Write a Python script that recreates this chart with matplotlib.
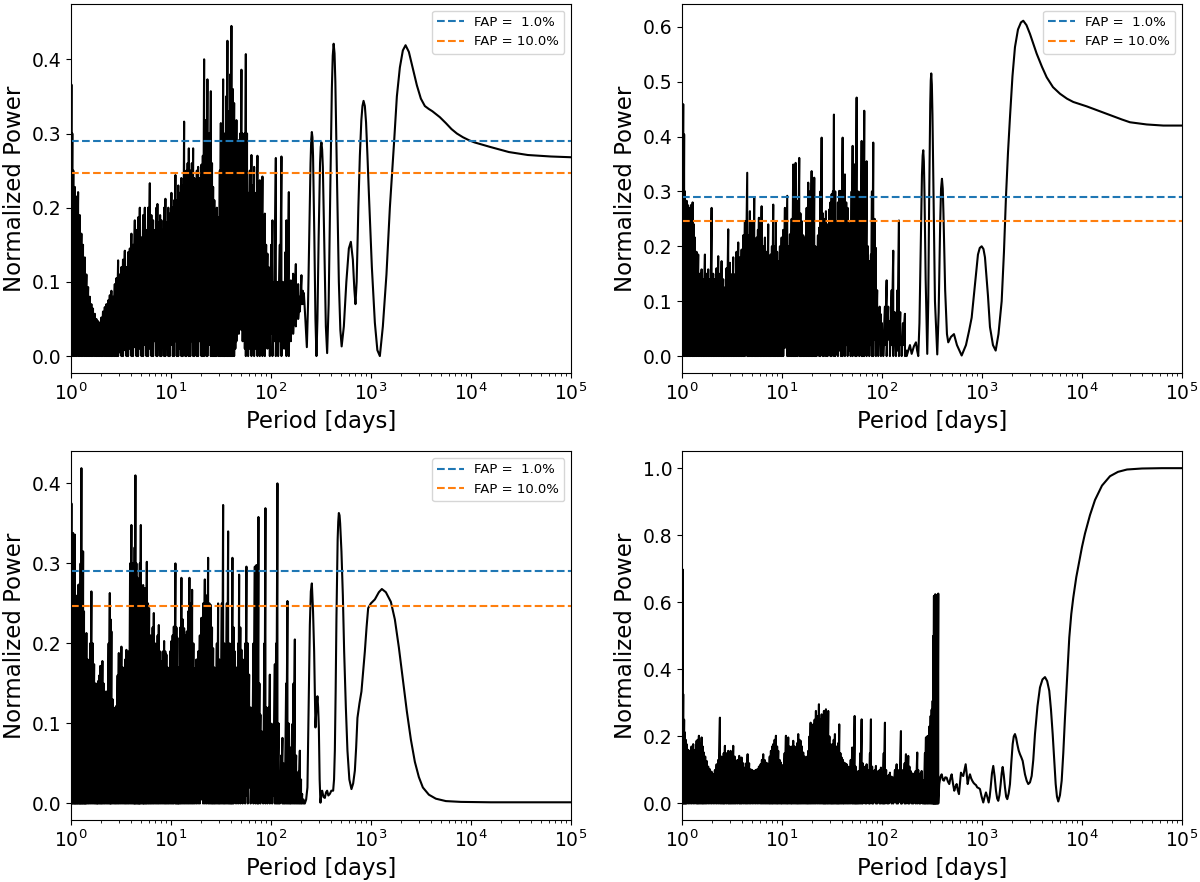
import numpy as np
import matplotlib
matplotlib.use('Agg')
import matplotlib.pyplot as plt

# FAP levels (same for the three panels that show them)
fap_labels = ['FAP =  1.0%', 'FAP = 10.0%']
fap_power = [0.290, 0.247]
fap_colors = ['C0', 'C1']

# Dense part of each periodogram: (log10 period, peak power, trough power)
p1_forest = [
    (0.000, 0.452, 0.0), (0.006, 0.366, 0.0), (0.015, 0.30, 0.0), (0.025, 0.25, 0.0),
    (0.040, 0.228, 0.0), (0.055, 0.215, 0.0), (0.073, 0.221, 0.0), (0.090, 0.19, 0.0),
    (0.106, 0.165, 0.0), (0.122, 0.15, 0.0), (0.140, 0.133, 0.0), (0.156, 0.11, 0.0),
    (0.173, 0.093, 0.0), (0.190, 0.08, 0.0), (0.206, 0.070, 0.0), (0.222, 0.064, 0.0),
    (0.240, 0.057, 0.0), (0.256, 0.05, 0.0), (0.273, 0.047, 0.0), (0.290, 0.045, 0.0),
    (0.306, 0.052, 0.0), (0.322, 0.06, 0.0), (0.340, 0.066, 0.0), (0.356, 0.07, 0.0),
    (0.373, 0.075, 0.0), (0.390, 0.082, 0.0), (0.406, 0.088, 0.0), (0.422, 0.08, 0.0),
    (0.440, 0.097, 0.0), (0.456, 0.105, 0.0), (0.473, 0.129, 0.0), (0.490, 0.11, 0.005),
    (0.506, 0.12, 0.0), (0.522, 0.13, 0.0), (0.540, 0.142, 0.008), (0.556, 0.12, 0.0),
    (0.573, 0.14, 0.0), (0.590, 0.145, 0.01), (0.606, 0.165, 0.0), (0.622, 0.15, 0.0),
    (0.640, 0.183, 0.012), (0.656, 0.17, 0.0), (0.673, 0.187, 0.0), (0.690, 0.2, 0.01),
    (0.706, 0.16, 0.0), (0.723, 0.19, 0.0), (0.740, 0.2, 0.015), (0.756, 0.17, 0.0),
    (0.773, 0.2, 0.0), (0.790, 0.233, 0.01), (0.806, 0.19, 0.0), (0.823, 0.183, 0.0),
    (0.840, 0.17, 0.02), (0.856, 0.2, 0.0), (0.866, 0.205, 0.0), (0.880, 0.18, 0.01),
    (0.893, 0.19, 0.0), (0.906, 0.183, 0.0), (0.920, 0.17, 0.02), (0.933, 0.2, 0.0),
    (0.946, 0.212, 0.0), (0.960, 0.18, 0.01), (0.975, 0.2, 0.0), (0.990, 0.192, 0.0),
    (1.006, 0.22, 0.015), (1.020, 0.2, 0.0), (1.033, 0.21, 0.0), (1.046, 0.244, 0.02),
    (1.060, 0.21, 0.0), (1.075, 0.23, 0.0), (1.090, 0.22, 0.01), (1.105, 0.24, 0.0),
    (1.120, 0.23, 0.0), (1.133, 0.316, 0.02), (1.145, 0.24, 0.0), (1.156, 0.25, 0.0),
    (1.168, 0.26, 0.015), (1.180, 0.28, 0.0), (1.195, 0.25, 0.0), (1.210, 0.26, 0.02),
    (1.223, 0.28, 0.0), (1.235, 0.24, 0.0), (1.246, 0.22, 0.01), (1.260, 0.25, 0.0),
    (1.273, 0.255, 0.0), (1.290, 0.24, 0.02), (1.306, 0.258, 0.0), (1.320, 0.27, 0.0),
    (1.333, 0.400, 0.0), (1.346, 0.318, 0.01), (1.356, 0.30, 0.0), (1.366, 0.373, 0.0),
    (1.383, 0.30, 0.015), (1.400, 0.357, 0.0), (1.412, 0.26, 0.0), (1.423, 0.228, 0.0),
    (1.435, 0.21, 0.0), (1.446, 0.183, 0.0), (1.460, 0.2, 0.0), (1.480, 0.187, 0.0),
    (1.490, 0.25, 0.0), (1.500, 0.314, 0.0), (1.512, 0.30, 0.0), (1.523, 0.373, 0.0),
    (1.533, 0.30, 0.0), (1.540, 0.273, 0.0), (1.553, 0.35, 0.0), (1.566, 0.425, 0.0),
    (1.576, 0.33, 0.0), (1.586, 0.282, 0.0), (1.596, 0.38, 0.0), (1.606, 0.445, 0.0),
    (1.620, 0.36, 0.0), (1.633, 0.341, 0.0), (1.645, 0.30, 0.01), (1.656, 0.318, 0.02),
    (1.668, 0.26, 0.04), (1.680, 0.291, 0.03), (1.693, 0.30, 0.04), (1.706, 0.386, 0.035),
    (1.718, 0.30, 0.02), (1.730, 0.22, 0.03), (1.740, 0.30, 0.01), (1.750, 0.407, 0.0),
    (1.762, 0.30, 0.02), (1.773, 0.22, 0.0), (1.790, 0.25, 0.01), (1.806, 0.271, 0.0),
    (1.820, 0.23, 0.02), (1.833, 0.255, 0.0), (1.850, 0.22, 0.01), (1.866, 0.27, 0.0),
    (1.878, 0.20, 0.02), (1.890, 0.237, 0.0), (1.903, 0.20, 0.03), (1.916, 0.242, 0.0),
    (1.928, 0.17, 0.02), (1.940, 0.192, 0.0), (1.953, 0.15, 0.03), (1.966, 0.138, 0.01),
    (1.978, 0.12, 0.04), (1.990, 0.102, 0.0), (2.003, 0.15, 0.03), (2.016, 0.183, 0.0),
    (2.033, 0.10, 0.02), (2.050, 0.267, 0.0), (2.062, 0.10, 0.03), (2.073, 0.057, 0.0),
    (2.090, 0.15, 0.02), (2.106, 0.269, 0.0), (2.120, 0.10, 0.04), (2.133, 0.093, 0.01),
    (2.145, 0.14, 0.03), (2.156, 0.183, 0.0), (2.168, 0.12, 0.05), (2.180, 0.221, 0.0),
    (2.190, 0.10, 0.04), (2.200, 0.102, 0.02), (2.212, 0.08, 0.05), (2.223, 0.111, 0.03),
    (2.237, 0.09, 0.06), (2.250, 0.124, 0.04), (2.262, 0.09, 0.06), (2.273, 0.097, 0.05),
    (2.290, 0.08, 0.06), (2.306, 0.109, 0.07), (2.320, 0.088, 0.07),
]

p2_forest = [
    (0.000, 0.574, 0.0), (0.013, 0.459, 0.0), (0.022, 0.404, 0.0), (0.030, 0.30, 0.0),
    (0.047, 0.283, 0.0), (0.060, 0.275, 0.0), (0.075, 0.27, 0.0), (0.090, 0.275, 0.0),
    (0.107, 0.28, 0.0), (0.120, 0.24, 0.0), (0.130, 0.216, 0.0), (0.146, 0.19, 0.0),
    (0.163, 0.185, 0.0), (0.180, 0.15, 0.0), (0.197, 0.158, 0.0), (0.213, 0.14, 0.0),
    (0.230, 0.185, 0.0), (0.246, 0.15, 0.0), (0.263, 0.158, 0.0), (0.280, 0.14, 0.0),
    (0.297, 0.27, 0.0), (0.313, 0.15, 0.0), (0.330, 0.14, 0.0), (0.346, 0.16, 0.0),
    (0.363, 0.182, 0.0), (0.380, 0.15, 0.0), (0.397, 0.173, 0.0), (0.413, 0.14, 0.0),
    (0.430, 0.125, 0.0), (0.446, 0.16, 0.0), (0.463, 0.231, 0.0), (0.480, 0.17, 0.0),
    (0.497, 0.149, 0.0), (0.513, 0.18, 0.0), (0.530, 0.149, 0.0), (0.546, 0.19, 0.0),
    (0.563, 0.207, 0.0), (0.580, 0.18, 0.0), (0.597, 0.194, 0.0), (0.613, 0.22, 0.0),
    (0.630, 0.246, 0.0), (0.653, 0.334, 0.0), (0.667, 0.22, 0.0), (0.680, 0.264, 0.0),
    (0.697, 0.246, 0.0), (0.710, 0.22, 0.0), (0.723, 0.289, 0.0), (0.735, 0.20, 0.0),
    (0.747, 0.216, 0.0), (0.760, 0.23, 0.0), (0.770, 0.252, 0.0), (0.784, 0.20, 0.0),
    (0.797, 0.273, 0.0), (0.813, 0.20, 0.0), (0.830, 0.216, 0.0), (0.847, 0.19, 0.0),
    (0.863, 0.24, 0.0), (0.875, 0.17, 0.0), (0.887, 0.185, 0.0), (0.900, 0.20, 0.0),
    (0.913, 0.276, 0.0), (0.927, 0.20, 0.0), (0.940, 0.246, 0.0), (0.952, 0.19, 0.0),
    (0.963, 0.173, 0.0), (0.980, 0.20, 0.0), (0.997, 0.216, 0.0), (1.013, 0.23, 0.0),
    (1.030, 0.27, 0.015), (1.053, 0.292, 0.0), (1.066, 0.20, 0.0), (1.080, 0.222, 0.0),
    (1.097, 0.25, 0.0), (1.113, 0.349, 0.0), (1.125, 0.30, 0.0), (1.137, 0.352, 0.0),
    (1.153, 0.283, 0.0), (1.173, 0.361, 0.0), (1.185, 0.26, 0.0), (1.197, 0.246, 0.0),
    (1.213, 0.22, 0.0), (1.230, 0.216, 0.0), (1.247, 0.27, 0.0), (1.263, 0.316, 0.0),
    (1.280, 0.30, 0.0), (1.297, 0.337, 0.0), (1.310, 0.29, 0.0), (1.323, 0.325, 0.0),
    (1.335, 0.20, 0.0), (1.347, 0.191, 0.0), (1.360, 0.22, 0.005), (1.373, 0.234, 0.0),
    (1.385, 0.30, 0.0), (1.397, 0.398, 0.005), (1.410, 0.26, 0.0), (1.420, 0.246, 0.0),
    (1.430, 0.25, 0.008), (1.440, 0.264, 0.0), (1.457, 0.24, 0.0), (1.473, 0.267, 0.005),
    (1.485, 0.28, 0.0), (1.497, 0.295, 0.0), (1.510, 0.30, 0.01), (1.520, 0.44, 0.0),
    (1.533, 0.30, 0.0), (1.547, 0.246, 0.005), (1.560, 0.28, 0.0), (1.573, 0.301, 0.01),
    (1.590, 0.301, 0.0), (1.607, 0.398, 0.0), (1.618, 0.30, 0.01), (1.630, 0.331, 0.0),
    (1.643, 0.28, 0.02), (1.657, 0.27, 0.0), (1.672, 0.24, 0.01), (1.687, 0.246, 0.0),
    (1.697, 0.30, 0.02), (1.707, 0.383, 0.0), (1.720, 0.30, 0.01), (1.733, 0.35, 0.0),
    (1.747, 0.471, 0.0), (1.760, 0.30, 0.02), (1.773, 0.246, 0.0), (1.785, 0.30, 0.01),
    (1.797, 0.392, 0.0), (1.810, 0.35, 0.0), (1.823, 0.447, 0.0), (1.835, 0.30, 0.02),
    (1.847, 0.355, 0.0), (1.860, 0.20, 0.03), (1.873, 0.173, 0.0), (1.890, 0.185, 0.02),
    (1.900, 0.30, 0.0), (1.913, 0.389, 0.0), (1.927, 0.25, 0.03), (1.940, 0.197, 0.0),
    (1.952, 0.12, 0.04), (1.963, 0.076, 0.0), (1.977, 0.09, 0.03), (1.990, 0.076, 0.0),
    (2.000, 0.06, 0.02), (2.013, 0.033, 0.0), (2.030, 0.09, 0.02), (2.047, 0.138, 0.0),
    (2.063, 0.09, 0.03), (2.080, 0.064, 0.0), (2.097, 0.12, 0.02), (2.113, 0.192, 0.0),
    (2.127, 0.08, 0.03), (2.140, 0.04, 0.0), (2.155, 0.12, 0.01), (2.170, 0.247, 0.0),
    (2.183, 0.08, 0.02), (2.197, 0.033, 0.0), (2.210, 0.06, 0.02), (2.230, 0.077, 0.0),
    (2.247, 0.01, 0.0),
]

p3_forest = [
    (0.000, 0.30, 0.0), (0.006, 0.375, 0.0), (0.015, 0.30, 0.0), (0.023, 0.338, 0.0),
    (0.032, 0.26, 0.0), (0.040, 0.336, 0.0), (0.048, 0.24, 0.0), (0.056, 0.253, 0.0),
    (0.065, 0.26, 0.0), (0.073, 0.273, 0.0), (0.082, 0.25, 0.0), (0.090, 0.275, 0.0),
    (0.098, 0.30, 0.0), (0.106, 0.419, 0.0), (0.115, 0.30, 0.0), (0.123, 0.315, 0.0),
    (0.132, 0.24, 0.0), (0.140, 0.20, 0.0), (0.148, 0.21, 0.0), (0.156, 0.213, 0.0),
    (0.168, 0.18, 0.0), (0.180, 0.169, 0.0), (0.193, 0.20, 0.0), (0.206, 0.265, 0.0),
    (0.220, 0.20, 0.0), (0.233, 0.174, 0.0), (0.245, 0.15, 0.0), (0.256, 0.134, 0.0),
    (0.265, 0.15, 0.0), (0.273, 0.153, 0.0), (0.285, 0.16, 0.0), (0.296, 0.172, 0.0),
    (0.306, 0.17, 0.0), (0.316, 0.178, 0.0), (0.328, 0.15, 0.0), (0.340, 0.134, 0.0),
    (0.353, 0.14, 0.0), (0.366, 0.138, 0.0), (0.378, 0.20, 0.0), (0.390, 0.263, 0.0),
    (0.398, 0.23, 0.0), (0.406, 0.215, 0.0), (0.420, 0.13, 0.0), (0.433, 0.111, 0.0),
    (0.445, 0.12, 0.0), (0.456, 0.122, 0.0), (0.468, 0.16, 0.0), (0.480, 0.188, 0.0),
    (0.493, 0.18, 0.0), (0.506, 0.196, 0.0), (0.520, 0.17, 0.0), (0.533, 0.153, 0.0),
    (0.545, 0.18, 0.0), (0.556, 0.192, 0.0), (0.568, 0.17, 0.0), (0.580, 0.19, 0.0),
    (0.593, 0.30, 0.0), (0.606, 0.348, 0.0), (0.618, 0.30, 0.0), (0.630, 0.277, 0.0),
    (0.638, 0.32, 0.0), (0.646, 0.41, 0.0), (0.656, 0.30, 0.0), (0.666, 0.282, 0.0),
    (0.675, 0.26, 0.0), (0.683, 0.257, 0.0), (0.690, 0.30, 0.0), (0.700, 0.348, 0.0),
    (0.712, 0.27, 0.0), (0.723, 0.273, 0.0), (0.730, 0.25, 0.0), (0.740, 0.269, 0.0),
    (0.750, 0.26, 0.0), (0.760, 0.302, 0.0), (0.772, 0.25, 0.0), (0.783, 0.244, 0.0),
    (0.795, 0.21, 0.0), (0.806, 0.199, 0.0), (0.818, 0.22, 0.0), (0.830, 0.238, 0.0),
    (0.843, 0.20, 0.0), (0.856, 0.194, 0.0), (0.868, 0.21, 0.0), (0.880, 0.223, 0.0),
    (0.893, 0.19, 0.0), (0.906, 0.178, 0.0), (0.920, 0.19, 0.0), (0.933, 0.203, 0.0),
    (0.945, 0.19, 0.0), (0.956, 0.186, 0.0), (0.968, 0.17, 0.0), (0.980, 0.165, 0.0),
    (0.993, 0.19, 0.0), (1.006, 0.203, 0.0), (1.018, 0.21, 0.0), (1.030, 0.221, 0.0),
    (1.046, 0.30, 0.0), (1.056, 0.22, 0.0), (1.066, 0.207, 0.0), (1.075, 0.17, 0.0),
    (1.083, 0.149, 0.0), (1.095, 0.22, 0.0), (1.106, 0.282, 0.0), (1.120, 0.23, 0.0),
    (1.133, 0.219, 0.0), (1.146, 0.21, 0.0), (1.160, 0.215, 0.0), (1.173, 0.24, 0.0),
    (1.186, 0.282, 0.0), (1.200, 0.25, 0.0), (1.213, 0.267, 0.0), (1.226, 0.20, 0.0),
    (1.240, 0.169, 0.0), (1.256, 0.18, 0.0), (1.273, 0.19, 0.0), (1.290, 0.21, 0.0),
    (1.306, 0.232, 0.005), (1.323, 0.25, 0.0), (1.340, 0.28, 0.0), (1.356, 0.26, 0.0),
    (1.373, 0.307, 0.0), (1.386, 0.25, 0.0), (1.400, 0.248, 0.0), (1.412, 0.22, 0.0),
    (1.423, 0.194, 0.0), (1.435, 0.17, 0.0), (1.446, 0.149, 0.0), (1.460, 0.20, 0.0),
    (1.473, 0.25, 0.0), (1.485, 0.18, 0.0), (1.496, 0.157, 0.0), (1.510, 0.25, 0.0),
    (1.523, 0.373, 0.0), (1.535, 0.20, 0.0), (1.546, 0.149, 0.0), (1.560, 0.25, 0.0),
    (1.573, 0.34, 0.0), (1.585, 0.20, 0.0), (1.596, 0.12, 0.0), (1.606, 0.20, 0.0),
    (1.616, 0.307, 0.0), (1.628, 0.22, 0.0), (1.640, 0.19, 0.01), (1.652, 0.17, 0.0),
    (1.663, 0.157, 0.02), (1.673, 0.20, 0.0), (1.683, 0.286, 0.01), (1.695, 0.22, 0.0),
    (1.706, 0.192, 0.02), (1.718, 0.18, 0.0), (1.730, 0.165, 0.03), (1.743, 0.20, 0.0),
    (1.756, 0.296, 0.01), (1.770, 0.20, 0.0), (1.783, 0.161, 0.02), (1.798, 0.12, 0.0),
    (1.813, 0.09, 0.03), (1.826, 0.20, 0.0), (1.840, 0.296, 0.01), (1.848, 0.25, 0.0),
    (1.856, 0.298, 0.02), (1.866, 0.25, 0.0), (1.876, 0.358, 0.0), (1.886, 0.15, 0.02),
    (1.896, 0.111, 0.0), (1.910, 0.09, 0.03), (1.923, 0.07, 0.0), (1.935, 0.20, 0.01),
    (1.946, 0.369, 0.0), (1.956, 0.12, 0.02), (1.966, 0.074, 0.0), (1.978, 0.12, 0.01),
    (1.990, 0.161, 0.0), (2.000, 0.10, 0.02), (2.013, 0.041, 0.0), (2.027, 0.10, 0.01),
    (2.040, 0.174, 0.0), (2.053, 0.20, 0.0), (2.066, 0.40, 0.0), (2.078, 0.10, 0.0),
    (2.090, 0.032, 0.0), (2.103, 0.06, 0.01), (2.116, 0.082, 0.0), (2.128, 0.05, 0.0),
    (2.140, 0.024, 0.0), (2.153, 0.15, 0.0), (2.166, 0.253, 0.0), (2.178, 0.10, 0.0),
    (2.190, 0.037, 0.0), (2.200, 0.07, 0.0), (2.213, 0.099, 0.0), (2.227, 0.15, 0.0),
    (2.240, 0.205, 0.0), (2.253, 0.06, 0.0), (2.266, 0.007, 0.0), (2.278, 0.04, 0.0),
    (2.290, 0.066, 0.0), (2.302, 0.03, 0.0), (2.313, 0.012, 0.0), (2.327, 0.005, 0.0),
    (2.340, 0.0, 0.0),
]

p4_forest = [
    (0.000, 0.45, 0.0), (0.007, 0.698, 0.0), (0.013, 0.326, 0.0), (0.022, 0.25, 0.0),
    (0.030, 0.212, 0.0), (0.038, 0.19, 0.0), (0.047, 0.177, 0.0), (0.063, 0.16, 0.0),
    (0.080, 0.157, 0.0), (0.096, 0.17, 0.0), (0.113, 0.177, 0.0), (0.130, 0.16, 0.0),
    (0.147, 0.187, 0.0), (0.158, 0.19, 0.0), (0.170, 0.202, 0.0), (0.183, 0.18, 0.0),
    (0.197, 0.197, 0.0), (0.208, 0.17, 0.0), (0.220, 0.152, 0.0), (0.233, 0.14, 0.0),
    (0.247, 0.127, 0.0), (0.263, 0.11, 0.0), (0.280, 0.102, 0.0), (0.296, 0.095, 0.0),
    (0.313, 0.087, 0.0), (0.330, 0.10, 0.0), (0.347, 0.117, 0.0), (0.363, 0.13, 0.0),
    (0.380, 0.256, 0.0), (0.393, 0.14, 0.0), (0.407, 0.127, 0.0), (0.418, 0.15, 0.0),
    (0.430, 0.172, 0.0), (0.447, 0.15, 0.0), (0.463, 0.157, 0.0), (0.475, 0.14, 0.0),
    (0.487, 0.157, 0.0), (0.500, 0.15, 0.0), (0.513, 0.172, 0.0), (0.527, 0.14, 0.0),
    (0.540, 0.117, 0.0), (0.556, 0.13, 0.0), (0.573, 0.142, 0.0), (0.585, 0.12, 0.0),
    (0.597, 0.137, 0.0), (0.613, 0.12, 0.0), (0.630, 0.107, 0.0), (0.643, 0.12, 0.0),
    (0.657, 0.147, 0.0), (0.672, 0.12, 0.0), (0.687, 0.102, 0.0), (0.703, 0.10, 0.0),
    (0.720, 0.097, 0.0), (0.737, 0.10, 0.0), (0.753, 0.102, 0.0), (0.770, 0.11, 0.0),
    (0.787, 0.117, 0.0), (0.800, 0.13, 0.0), (0.813, 0.147, 0.0), (0.827, 0.13, 0.0),
    (0.840, 0.122, 0.0), (0.853, 0.12, 0.0), (0.867, 0.117, 0.0), (0.878, 0.14, 0.0),
    (0.890, 0.157, 0.0), (0.902, 0.17, 0.0), (0.913, 0.177, 0.0), (0.927, 0.19, 0.0),
    (0.940, 0.202, 0.0), (0.952, 0.17, 0.0), (0.963, 0.157, 0.0), (0.977, 0.13, 0.0),
    (0.990, 0.122, 0.0), (1.000, 0.115, 0.0), (1.013, 0.112, 0.0), (1.027, 0.15, 0.0),
    (1.040, 0.202, 0.0), (1.052, 0.18, 0.0), (1.063, 0.197, 0.0), (1.077, 0.17, 0.0),
    (1.090, 0.157, 0.0), (1.100, 0.17, 0.0), (1.113, 0.187, 0.0), (1.127, 0.17, 0.0),
    (1.140, 0.157, 0.0), (1.152, 0.18, 0.0), (1.163, 0.207, 0.0), (1.175, 0.19, 0.0),
    (1.187, 0.187, 0.0), (1.200, 0.17, 0.0), (1.213, 0.152, 0.0), (1.227, 0.14, 0.0),
    (1.240, 0.127, 0.0), (1.252, 0.14, 0.0), (1.263, 0.157, 0.0), (1.275, 0.20, 0.0),
    (1.287, 0.241, 0.0), (1.300, 0.22, 0.0), (1.313, 0.236, 0.0), (1.327, 0.25, 0.0),
    (1.340, 0.276, 0.0), (1.355, 0.26, 0.0), (1.370, 0.296, 0.0), (1.383, 0.25, 0.0),
    (1.397, 0.266, 0.0), (1.410, 0.24, 0.0), (1.420, 0.276, 0.0), (1.430, 0.25, 0.0),
    (1.440, 0.281, 0.0), (1.452, 0.24, 0.0), (1.463, 0.276, 0.0), (1.475, 0.20, 0.0),
    (1.487, 0.177, 0.0), (1.497, 0.16, 0.0), (1.507, 0.177, 0.0), (1.518, 0.19, 0.0),
    (1.530, 0.207, 0.0), (1.542, 0.17, 0.0), (1.553, 0.157, 0.0), (1.563, 0.18, 0.0),
    (1.573, 0.236, 0.0), (1.585, 0.15, 0.0), (1.597, 0.137, 0.0), (1.610, 0.13, 0.0),
    (1.620, 0.122, 0.0), (1.633, 0.12, 0.0), (1.647, 0.117, 0.0), (1.660, 0.11, 0.0),
    (1.673, 0.107, 0.0), (1.688, 0.13, 0.0), (1.703, 0.167, 0.0), (1.715, 0.15, 0.0),
    (1.727, 0.261, 0.0), (1.737, 0.11, 0.0), (1.747, 0.097, 0.0), (1.758, 0.09, 0.0),
    (1.770, 0.097, 0.0), (1.783, 0.15, 0.0), (1.797, 0.251, 0.0), (1.808, 0.12, 0.0),
    (1.820, 0.097, 0.005), (1.833, 0.11, 0.0), (1.847, 0.117, 0.0), (1.858, 0.10, 0.005),
    (1.870, 0.097, 0.0), (1.880, 0.15, 0.0), (1.890, 0.251, 0.005), (1.902, 0.11, 0.0),
    (1.913, 0.097, 0.0), (1.927, 0.10, 0.005), (1.940, 0.112, 0.0), (1.952, 0.09, 0.0),
    (1.963, 0.097, 0.005), (1.977, 0.10, 0.0), (1.990, 0.107, 0.0), (2.000, 0.09, 0.005),
    (2.007, 0.077, 0.0), (2.018, 0.15, 0.0), (2.030, 0.241, 0.0), (2.042, 0.10, 0.005),
    (2.053, 0.082, 0.0), (2.067, 0.085, 0.0), (2.080, 0.092, 0.005), (2.097, 0.08, 0.0),
    (2.113, 0.077, 0.0), (2.130, 0.10, 0.005), (2.147, 0.117, 0.0), (2.160, 0.10, 0.0),
    (2.173, 0.097, 0.005), (2.190, 0.216, 0.0), (2.200, 0.10, 0.0), (2.213, 0.097, 0.005),
    (2.227, 0.12, 0.0), (2.240, 0.147, 0.0), (2.252, 0.13, 0.005), (2.263, 0.142, 0.0),
    (2.275, 0.11, 0.0), (2.287, 0.097, 0.01), (2.300, 0.09, 0.0), (2.313, 0.082, 0.0),
    (2.325, 0.09, 0.01), (2.337, 0.097, 0.0), (2.353, 0.152, 0.0), (2.363, 0.10, 0.01),
    (2.373, 0.082, 0.0), (2.385, 0.09, 0.0), (2.397, 0.097, 0.01), (2.408, 0.07, 0.0),
    (2.420, 0.058, 0.0), (2.430, 0.15, 0.0), (2.440, 0.197, 0.0), (2.452, 0.20, 0.0),
    (2.463, 0.202, 0.0), (2.475, 0.23, 0.0), (2.487, 0.261, 0.0), (2.497, 0.28, 0.0),
    (2.507, 0.306, 0.0), (2.514, 0.50, 0.0), (2.520, 0.619, 0.0), (2.527, 0.62, 0.0),
    (2.533, 0.624, 0.0), (2.540, 0.60, 0.0), (2.547, 0.622, 0.0), (2.555, 0.61, 0.0),
    (2.563, 0.626, 0.0),
]

# Long-period part of each periodogram: (log10 period, power)
p1_smooth = [
    (2.330, 0.085), (2.345, 0.05), (2.360, 0.012), (2.372, 0.07), (2.385, 0.17),
    (2.397, 0.26), (2.404, 0.292), (2.410, 0.302), (2.416, 0.295), (2.422, 0.27),
    (2.435, 0.16), (2.446, 0.05), (2.456, 0.0), (2.466, 0.05), (2.478, 0.16),
    (2.492, 0.26), (2.499, 0.282), (2.506, 0.288), (2.513, 0.278), (2.520, 0.255),
    (2.535, 0.15), (2.550, 0.04), (2.563, 0.004), (2.578, 0.07), (2.595, 0.23),
    (2.610, 0.36), (2.619, 0.405), (2.628, 0.421), (2.637, 0.408), (2.645, 0.37),
    (2.660, 0.25), (2.680, 0.10), (2.695, 0.035), (2.708, 0.013), (2.730, 0.04),
    (2.755, 0.10), (2.780, 0.145), (2.800, 0.154), (2.820, 0.13), (2.835, 0.09),
    (2.846, 0.07), (2.858, 0.10), (2.875, 0.20), (2.890, 0.27), (2.905, 0.318),
    (2.916, 0.337), (2.927, 0.344), (2.940, 0.337), (2.952, 0.315), (2.966, 0.27),
    (2.980, 0.22), (3.010, 0.12), (3.040, 0.045), (3.065, 0.008), (3.090, 0.0),
    (3.120, 0.04), (3.156, 0.11), (3.190, 0.20), (3.233, 0.29), (3.260, 0.35),
    (3.290, 0.389), (3.320, 0.412), (3.347, 0.419), (3.380, 0.41), (3.424, 0.385),
    (3.460, 0.365), (3.500, 0.347), (3.540, 0.337), (3.580, 0.333), (3.615, 0.33),
    (3.690, 0.322), (3.750, 0.314), (3.806, 0.306), (3.860, 0.30), (3.920, 0.295),
    (3.980, 0.291), (4.036, 0.288), (4.190, 0.282), (4.380, 0.275), (4.570, 0.271),
    (4.800, 0.269), (5.000, 0.268),
]

p2_smooth = [
    (2.263, 0.01), (2.280, 0.02), (2.297, 0.004), (2.320, 0.018), (2.340, 0.025),
    (2.352, 0.01), (2.363, 0.0), (2.375, 0.06), (2.388, 0.20), (2.400, 0.33),
    (2.407, 0.365), (2.413, 0.375), (2.419, 0.355), (2.425, 0.30), (2.437, 0.14),
    (2.453, 0.004), (2.463, 0.10), (2.473, 0.30), (2.483, 0.46), (2.488, 0.502),
    (2.493, 0.515), (2.499, 0.495), (2.505, 0.44), (2.517, 0.27), (2.530, 0.10),
    (2.553, 0.003), (2.567, 0.08), (2.582, 0.24), (2.591, 0.305), (2.600, 0.323),
    (2.608, 0.305), (2.615, 0.26), (2.632, 0.12), (2.650, 0.04), (2.663, 0.025),
    (2.690, 0.035), (2.720, 0.04), (2.750, 0.02), (2.797, 0.001), (2.840, 0.02),
    (2.870, 0.045), (2.897, 0.07), (2.930, 0.13), (2.960, 0.185), (2.978, 0.197),
    (2.997, 0.20), (3.015, 0.195), (3.030, 0.18), (3.060, 0.11), (3.080, 0.053),
    (3.110, 0.02), (3.137, 0.01), (3.165, 0.04), (3.197, 0.10), (3.220, 0.19),
    (3.240, 0.29), (3.260, 0.37), (3.280, 0.435), (3.305, 0.51), (3.330, 0.563),
    (3.360, 0.595), (3.390, 0.608), (3.413, 0.611), (3.445, 0.603), (3.480, 0.587),
    (3.515, 0.568), (3.547, 0.551), (3.600, 0.527), (3.647, 0.508), (3.710, 0.49),
    (3.780, 0.478), (3.850, 0.469), (3.913, 0.463), (3.980, 0.459), (4.047, 0.455),
    (4.180, 0.446), (4.313, 0.437), (4.400, 0.431), (4.480, 0.426), (4.647, 0.422),
    (4.813, 0.42), (5.000, 0.42),
]

p3_smooth = [
    (2.353, 0.005), (2.366, 0.02), (2.378, 0.12), (2.390, 0.223), (2.400, 0.265),
    (2.410, 0.275), (2.422, 0.24), (2.433, 0.19), (2.446, 0.095), (2.456, 0.12),
    (2.466, 0.134), (2.473, 0.12), (2.480, 0.095), (2.488, 0.03), (2.496, 0.001),
    (2.505, 0.012), (2.513, 0.016), (2.527, 0.008), (2.540, 0.007), (2.552, 0.014),
    (2.563, 0.016), (2.575, 0.01), (2.590, 0.012), (2.605, 0.016), (2.623, 0.016),
    (2.632, 0.03), (2.640, 0.066), (2.648, 0.14), (2.656, 0.232), (2.668, 0.33),
    (2.674, 0.352), (2.680, 0.363), (2.687, 0.36), (2.693, 0.35), (2.706, 0.315),
    (2.720, 0.26), (2.733, 0.19), (2.750, 0.12), (2.766, 0.066), (2.785, 0.03),
    (2.806, 0.018), (2.823, 0.025), (2.840, 0.041), (2.853, 0.07), (2.866, 0.107),
    (2.886, 0.125), (2.906, 0.14), (2.923, 0.165), (2.940, 0.19), (2.957, 0.22),
    (2.973, 0.244), (3.000, 0.25), (3.040, 0.255), (3.080, 0.264), (3.110, 0.268),
    (3.150, 0.264), (3.200, 0.252), (3.240, 0.23), (3.280, 0.195), (3.320, 0.155),
    (3.360, 0.115), (3.400, 0.08), (3.440, 0.052), (3.480, 0.033), (3.520, 0.02),
    (3.580, 0.011), (3.650, 0.006), (3.750, 0.003), (3.900, 0.002), (4.200, 0.0015),
    (5.000, 0.0015),
]

p4_smooth = [
    (2.573, 0.058), (2.585, 0.08), (2.597, 0.087), (2.610, 0.07), (2.620, 0.068),
    (2.633, 0.078), (2.647, 0.077), (2.660, 0.065), (2.673, 0.058), (2.685, 0.075),
    (2.697, 0.087), (2.710, 0.06), (2.723, 0.038), (2.735, 0.05), (2.747, 0.058),
    (2.758, 0.04), (2.770, 0.028), (2.780, 0.06), (2.790, 0.092), (2.800, 0.085),
    (2.813, 0.082), (2.825, 0.10), (2.837, 0.117), (2.847, 0.09), (2.857, 0.058),
    (2.868, 0.075), (2.880, 0.087), (2.892, 0.075), (2.903, 0.068), (2.915, 0.062),
    (2.927, 0.058), (2.940, 0.055), (2.953, 0.048), (2.967, 0.046), (2.980, 0.043),
    (2.997, 0.02), (3.013, 0.003), (3.027, 0.02), (3.040, 0.033), (3.053, 0.02),
    (3.067, 0.003), (3.077, 0.02), (3.087, 0.048), (3.100, 0.09), (3.113, 0.112),
    (3.127, 0.08), (3.140, 0.038), (3.152, 0.015), (3.163, 0.008), (3.175, 0.025),
    (3.187, 0.058), (3.197, 0.09), (3.207, 0.109), (3.218, 0.085), (3.230, 0.048),
    (3.242, 0.02), (3.253, 0.013), (3.267, 0.03), (3.280, 0.058), (3.293, 0.12),
    (3.307, 0.177), (3.318, 0.20), (3.330, 0.207), (3.342, 0.195), (3.353, 0.177),
    (3.367, 0.158), (3.380, 0.147), (3.393, 0.138), (3.407, 0.127), (3.420, 0.105),
    (3.430, 0.087), (3.447, 0.068), (3.463, 0.058), (3.480, 0.063), (3.497, 0.082),
    (3.513, 0.13), (3.530, 0.207), (3.555, 0.29), (3.580, 0.346), (3.605, 0.37),
    (3.630, 0.377), (3.652, 0.365), (3.673, 0.336), (3.690, 0.28), (3.707, 0.207),
    (3.722, 0.13), (3.737, 0.058), (3.750, 0.02), (3.763, 0.006), (3.780, 0.025),
    (3.797, 0.068), (3.813, 0.15), (3.830, 0.256), (3.850, 0.37), (3.873, 0.495),
    (3.893, 0.565), (3.913, 0.614), (3.943, 0.675), (3.973, 0.723), (4.000, 0.765),
    (4.030, 0.805), (4.080, 0.86), (4.130, 0.905), (4.200, 0.948), (4.280, 0.976),
    (4.360, 0.989), (4.450, 0.996), (4.600, 0.999), (4.800, 1.0), (5.000, 1.0),
]

panels = [
    (p1_forest, p1_smooth, True),
    (p2_forest, p2_smooth, True),
    (p3_forest, p3_smooth, True),
    (p4_forest, p4_smooth, False),
]


def periodogram_line(forest, smooth):
    # forest rows become peak/trough pairs, then the smooth tail follows
    f_logp = np.array([r[0] for r in forest])
    f_peak = np.array([r[1] for r in forest])
    f_trough = np.array([r[2] for r in forest])
    s_logp = np.array([r[0] for r in smooth])
    s_pow = np.array([r[1] for r in smooth])
    x = np.concatenate([np.repeat(f_logp, 2), s_logp])
    y = np.concatenate([np.column_stack([f_peak, f_trough]).ravel(), s_pow])
    return 10 ** x, y


plt.rcParams['xtick.labelsize'] = 13.5
plt.rcParams['ytick.labelsize'] = 13.5
plt.rcParams['axes.labelsize'] = 16.5

fig, axes = plt.subplots(2, 2, figsize=(12, 8.82))
plt.subplots_adjust(left=0.059, right=0.985, bottom=0.070, top=0.9955,
                    wspace=0.222, hspace=0.213)

for ax, (forest, smooth, show_fap) in zip(axes.flat, panels):
    period, power = periodogram_line(forest, smooth)
    ax.plot(period, power, color='black', lw=1.5)
    if show_fap:
        for lab, lev, col in zip(fap_labels, fap_power, fap_colors):
            ax.axhline(lev, color=col, ls='--', lw=1.5, label=lab)
        ax.legend(loc='upper right', fontsize=9.5)
    ax.set_xscale('log')
    ax.set_xlim(1, 1e5)
    ax.set_xlabel('Period [days]')
    ax.set_ylabel('Normalized Power')

plt.savefig('out.png', dpi=100)
